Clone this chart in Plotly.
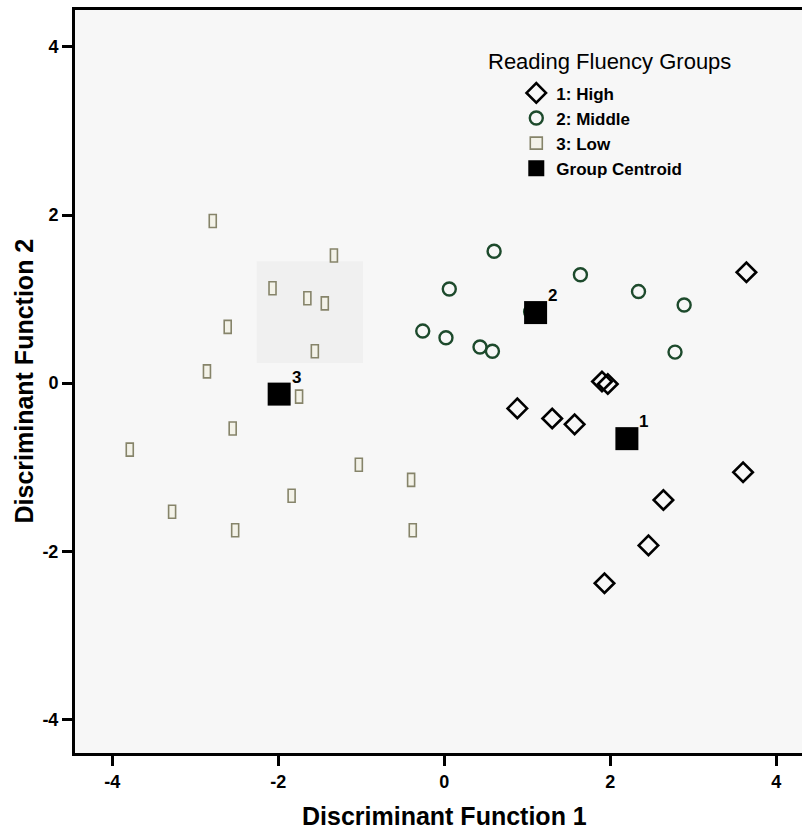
import plotly.graph_objects as go

# ---- data ----
high_x = [3.64, 1.90, 1.97, 0.88, 1.30, 1.57, 3.60, 2.64, 2.46, 1.93]
high_y = [1.32, 0.02, -0.01, -0.30, -0.42, -0.49, -1.06, -1.39, -1.93, -2.38]

mid_x = [0.60, 0.06, 1.64, 2.34, 2.89, -0.26, 0.02, 0.43, 0.58, 2.78, 1.04]
mid_y = [1.57, 1.12, 1.29, 1.09, 0.93, 0.62, 0.54, 0.43, 0.38, 0.37, 0.85]

low_x = [-2.79, -1.33, -2.07, -1.65, -1.44, -2.61, -1.56, -2.86, -1.75, -2.55,
         -3.79, -1.03, -0.40, -1.84, -3.28, -2.52, -0.38]
low_y = [1.93, 1.52, 1.13, 1.01, 0.95, 0.67, 0.38, 0.14, -0.16, -0.54,
         -0.79, -0.97, -1.15, -1.34, -1.53, -1.75, -1.75]

cen_x = [2.20, 1.10, -1.99]
cen_y = [-0.66, 0.84, -0.13]
cen_labels = ["1", "2", "3"]

tick_vals = [-4, -2, 0, 2, 4]
tick_text = ["-4", "-2", "0", "2", "4"]

group_names = ["1: High", "2: Middle", "3: Low", "Group Centroid"]
legend_title = "Reading Fluency Groups"
x_title = "Discriminant Function 1"
y_title = "Discriminant Function 2"

# ---- styles ----
FONT = "Liberation Sans, Arial, sans-serif"
LOW_COLOR = "#86846a"
LOW_FILL = "#f3f2e8"

fig = go.Figure()

fig.add_trace(go.Scatter(
    x=high_x, y=high_y, mode="markers", name=group_names[0], legendrank=1,
    marker=dict(symbol="diamond-open", size=15, color="black",
                line=dict(color="black", width=2.6)),
))
fig.add_trace(go.Scatter(
    x=mid_x, y=mid_y, mode="markers", name=group_names[1], legendrank=2,
    marker=dict(symbol="circle-open", size=13, color="#1d4a2c",
                line=dict(color="#1d4a2c", width=2.4)),
))

# Low group: narrow upright rectangles anchored at data points
for i, (lx, ly) in enumerate(zip(low_x, low_y)):
    fig.add_shape(
        type="rect", xref="x", yref="y",
        xsizemode="pixel", ysizemode="pixel",
        xanchor=lx, yanchor=ly,
        x0=-3.5, x1=3.5, y0=-6.5, y1=6.5,
        line=dict(color=LOW_COLOR, width=1.6),
        fillcolor=LOW_FILL, layer="above",
        name=group_names[2], legendgroup="low", legendrank=3,
        showlegend=(i == 0),
    )

fig.add_trace(go.Scatter(
    x=cen_x, y=cen_y, mode="markers", name=group_names[3], legendrank=4,
    marker=dict(symbol="square", size=23, color="black"),
))

# centroid number labels, offset up-right of each centroid
annotations = []
for cx, cy, lab in zip(cen_x, cen_y, cen_labels):
    annotations.append(dict(
        x=cx, y=cy, xref="x", yref="y", text=lab, showarrow=False,
        xshift=17, yshift=17, xanchor="center", yanchor="middle",
        font=dict(family=FONT, size=17, color="black", weight="bold"),
    ))

# faint shaded patch visible in the reference
fig.add_shape(type="rect", xref="x", yref="y", x0=-2.26, x1=-0.98, y0=0.24, y1=1.45,
              fillcolor="#f0f0f0", line=dict(width=0), layer="below")

annotations += [
    dict(text=legend_title, xref="paper", yref="paper",
         x=(609 - 75) / 727, y=(753 - 61) / 743,
         xanchor="center", yanchor="middle", showarrow=False,
         font=dict(family=FONT, size=22, color="black", weight="normal")),
    dict(text=x_title, xref="paper", yref="paper", x=(444 - 75) / 727, y=(753 - 816) / 743,
         xanchor="center", yanchor="middle", showarrow=False,
         font=dict(family=FONT, size=25, color="black", weight="bold")),
    dict(text=y_title, xref="paper", yref="paper", x=(23 - 75) / 727, y=0.5,
         xanchor="center", yanchor="middle", showarrow=False, textangle=-90,
         font=dict(family=FONT, size=25, color="black", weight="bold")),
]

fig.update_layout(
    width=802, height=836,
    margin=dict(l=75, r=0, t=10, b=83),
    paper_bgcolor="white", plot_bgcolor="#f7f7f7",
    font=dict(family=FONT, color="black"),
    showlegend=True,
    legend=dict(
        x=0.607, y=0.912, xanchor="left", yanchor="top",
        bgcolor="rgba(0,0,0,0)",
        font=dict(family=FONT, size=17, color="black", weight="bold"),
        tracegroupgap=0, itemsizing="trace",
    ),
    annotations=annotations,
)

fig.update_xaxes(
    range=[-4.45, 4.31], tickvals=tick_vals, ticktext=tick_text,
    showgrid=False, zeroline=False,
    showline=True, linecolor="black", linewidth=3, mirror=True,
    ticks="outside", ticklen=10, tickwidth=3, tickcolor="black",
    tickfont=dict(family=FONT, size=18, color="black", weight="bold"),
)
fig.update_yaxes(
    range=[-4.40, 4.44], tickvals=tick_vals, ticktext=tick_text,
    showgrid=False, zeroline=False,
    showline=True, linecolor="black", linewidth=3, mirror=False,
    ticks="outside", ticklen=10, tickwidth=3, tickcolor="black",
    tickfont=dict(family=FONT, size=18, color="black", weight="bold"),
)

fig.write_html("out.html", config={"displayModeBar": False},
               post_script="document.body.style.margin='0';document.body.style.padding='0';")
